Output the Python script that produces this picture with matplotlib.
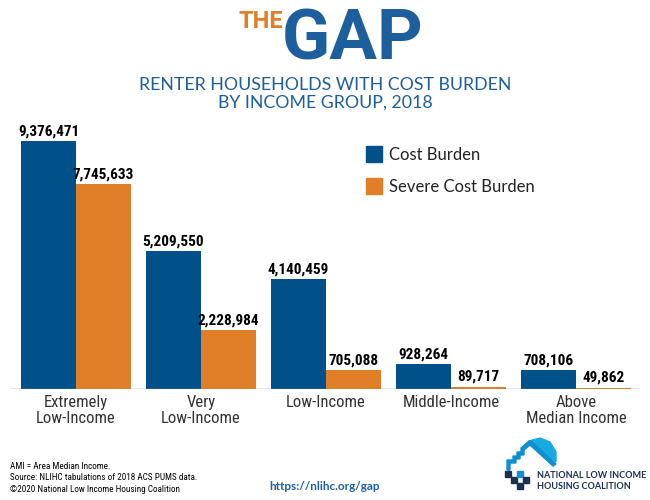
import matplotlib
matplotlib.use("Agg")
import matplotlib.pyplot as plt
from matplotlib import font_manager
from matplotlib.patches import Rectangle, Polygon
import numpy as np

groups = ["Extremely\nLow-Income", "Very\nLow-Income", "Low-Income",
          "Middle-Income", "Above\nMedian Income"]
cost_burden = [9376471, 5209550, 4140459, 928264, 708106]
severe_burden = [7745633, 2228984, 705088, 89717, 49862]
series_names = ["Cost Burden", "Severe Cost Burden"]

BLUE = "#00518a"
ORANGE = "#e07f27"
TITLE_BLUE = "#1d5f9c"

installed = {f.name for f in font_manager.fontManager.ttflist}
def pick(*names):
    for n in names:
        if n in installed:
            return n
    return "DejaVu Sans"

narrow = pick("Liberation Sans Narrow", "Roboto Condensed", "Open Sans Condensed", "Liberation Sans")
sans = pick("Lato", "Open Sans", "Liberation Sans")
bold = pick("Roboto", "Liberation Sans")

W, H = 650, 500
fig = plt.figure(figsize=(6.5, 5), dpi=100)

def fx(p):
    return p / W

def fy(p):
    return 1 - p / H

# axes spans pixel x 10..640, y 110..389
ax = fig.add_axes([fx(10), fy(389), fx(630), (389 - 110) / H])
x = np.arange(len(groups))
w = 0.44
ax.bar(x - w / 2, cost_burden, w, color=BLUE, label=series_names[0])
ax.bar(x + w / 2, severe_burden, w, color=ORANGE, label=series_names[1])
ax.set_xlim((10 - 76) / 125, (640 - 76) / 125)
ax.set_ylim(0, 279 / 26.45 * 1e6)
for s in ax.spines.values():
    s.set_visible(False)
ax.axhline(0, color="#8a8a8a", lw=1)
ax.set_yticks([])
ax.set_xticks([])

for i in range(len(groups)):
    for xs, v in ((x[i] - w / 2, cost_burden[i]), (x[i] + w / 2, severe_burden[i])):
        ax.annotate(f"{v:,}", (xs, v), xytext=(0, 2), textcoords="offset points",
                    ha="center", va="bottom", fontsize=11, fontweight="bold",
                    family=narrow, color="black")
    ax.annotate(groups[i], (x[i], 0), xytext=(0, -4), textcoords="offset points",
                ha="center", va="top", fontsize=12, family=narrow, color="#333333",
                linespacing=1.15)

# legend
for k, (c, name) in enumerate(zip([BLUE, ORANGE], series_names)):
    y0 = 146 + 32 * k
    fig.patches.append(Rectangle((fx(366), fy(y0 + 16)), 16 / W, 16 / H,
                                 color=c, transform=fig.transFigure))
    fig.text(fx(389), fy(y0 + 9), name, fontsize=12, family=sans, color="#222222", va="center")

# header
fig.text(fx(283), fy(28), "THE", fontsize=17, fontweight="bold", family=bold,
         color=ORANGE, ha="right", va="baseline")
fig.text(fx(282), fy(60), "GAP", fontsize=51, fontweight="bold", family=bold,
         color=TITLE_BLUE, ha="left", va="baseline")
fig.text(0.5, fy(94), "RENTER HOUSEHOLDS WITH COST BURDEN\nBY INCOME GROUP, 2018",
         fontsize=12.8, family=sans, color=TITLE_BLUE, ha="center", va="center",
         linespacing=1.1)

# footer
fig.text(fx(10), fy(462), "AMI = Area Median Income.\nSource: NLIHC tabulations of 2018 ACS PUMS data.\n\u00a92020 National Low Income Housing Coalition",
         fontsize=6.6, family=narrow, color="black", va="top", linespacing=1.35)
fig.text(fx(325), fy(486), "https://nlihc.org/gap", fontsize=8.5, fontweight="bold",
         family=sans, color=TITLE_BLUE, ha="center", va="center")
fig.text(fx(537), fy(481), "NATIONAL LOW INCOME\nHOUSING COALITION", fontsize=6.5,
         fontweight="bold", family=sans, color="#1b2f52", va="center", linespacing=1.3)

# logo mark
tr = fig.transFigure
def P(pts, c):
    fig.patches.append(Polygon([(fx(a), fy(b)) for a, b in pts], closed=True,
                               color=c, transform=tr))
P([(529, 441), (540, 438), (550, 442), (556, 452), (556, 462), (531, 442)], "#19a9e1")
P([(529, 441), (521, 448), (521, 452), (517, 452), (517, 456), (513, 456),
   (513, 460), (507, 460), (507, 470), (510, 470), (510, 463), (516, 463),
   (516, 459), (520, 459), (520, 455), (524, 455), (524, 450), (530, 445),
   (553, 466), (556, 464), (531, 441)], "#0f8fcf")
for (a, b, c) in [(505, 471, "#1b2f52"), (511, 477, "#1b2f52"), (517, 471, "#0f8fcf"),
                  (517, 483, "#1b2f52"), (523, 477, "#1b2f52")]:
    fig.patches.append(Rectangle((fx(a), fy(b + 6)), 6 / W, 6 / H, color=c, transform=tr))

fig.savefig("out.png", dpi=100)
